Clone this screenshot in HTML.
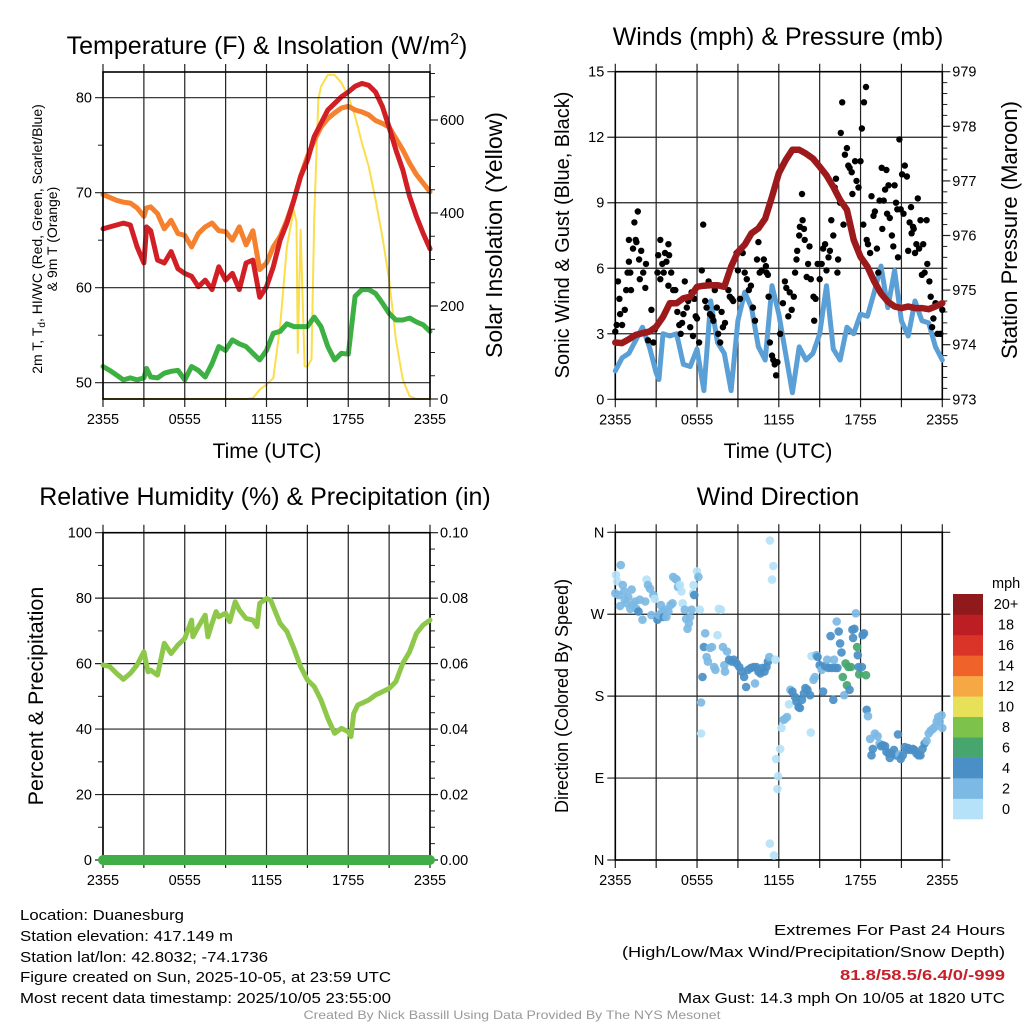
<!DOCTYPE html>
<html><head><meta charset="utf-8"><style>
html,body{margin:0;padding:0;background:#fff;}
svg{display:block;font-family:"Liberation Sans",Arial,sans-serif;}
</style></head><body>
<svg id="chart" width="1024" height="1024" viewBox="0 0 1024 1024" xmlns="http://www.w3.org/2000/svg">
<rect width="1024" height="1024" fill="#fff"/>
<text x="267" y="54" font-size="25" text-anchor="middle">Temperature (F) &amp; Insolation (W/m<tspan font-size="16" dy="-10">2</tspan><tspan dy="10">)</tspan></text>
<text x="778" y="45" font-size="25" text-anchor="middle">Winds (mph) &amp; Pressure (mb)</text>
<text x="265" y="505" font-size="25" text-anchor="middle">Relative Humidity (%) &amp; Precipitation (in)</text>
<text x="778" y="505" font-size="25" text-anchor="middle">Wind Direction</text>

<text transform="translate(42,239) rotate(-90)" font-size="14" text-anchor="middle">2m T, T<tspan font-size="10" dy="3">d</tspan><tspan dy="-3">, HI/WC (Red, Green, Scarlet/Blue)</tspan></text>
<text transform="translate(57,239) rotate(-90)" font-size="14" text-anchor="middle">&amp; 9m T (Orange)</text>
<text transform="translate(502,235) rotate(-90)" font-size="23" text-anchor="middle">Solar Insolation (Yellow)</text>
<text x="267" y="458" font-size="21" text-anchor="middle">Time (UTC)</text>
<text transform="translate(569,235) rotate(-90)" font-size="20" text-anchor="middle">Sonic Wind &amp; Gust (Blue, Black)</text>
<text transform="translate(1017,230) rotate(-90)" font-size="22" text-anchor="middle">Station Pressure (Maroon)</text>
<text x="778" y="458" font-size="21" text-anchor="middle">Time (UTC)</text>
<text transform="translate(43,696) rotate(-90)" font-size="21.5" text-anchor="middle">Percent &amp; Precipitation</text>
<text transform="translate(568,696) rotate(-90)" font-size="18" text-anchor="middle">Direction (Colored By Speed)</text>

<g font-size="14.5">
<text x="20" y="920" textLength="164" lengthAdjust="spacingAndGlyphs">Location: Duanesburg</text>
<text x="20" y="941" textLength="213" lengthAdjust="spacingAndGlyphs">Station elevation: 417.149 m</text>
<text x="20" y="962" textLength="248" lengthAdjust="spacingAndGlyphs">Station lat/lon: 42.8032; -74.1736</text>
<text x="20" y="982" textLength="371" lengthAdjust="spacingAndGlyphs">Figure created on Sun, 2025-10-05, at 23:59 UTC</text>
<text x="20" y="1003" textLength="371" lengthAdjust="spacingAndGlyphs">Most recent data timestamp: 2025/10/05 23:55:00</text>
</g>
<g font-size="14.5" text-anchor="end">
<text x="1005" y="935" textLength="231" lengthAdjust="spacingAndGlyphs">Extremes For Past 24 Hours</text>
<text x="1005" y="957" textLength="383" lengthAdjust="spacingAndGlyphs">(High/Low/Max Wind/Precipitation/Snow Depth)</text>
<text x="1005" y="980" fill="#c8202a" font-weight="bold" textLength="165" lengthAdjust="spacingAndGlyphs">81.8/58.5/6.4/0/-999</text>
<text x="1005" y="1003" textLength="327" lengthAdjust="spacingAndGlyphs">Max Gust: 14.3 mph On 10/05 at 1820 UTC</text>
</g>
<text x="512" y="1019" font-size="12" fill="#999" text-anchor="middle" textLength="417" lengthAdjust="spacingAndGlyphs">Created By Nick Bassill Using Data Provided By The NYS Mesonet</text>
</svg>
<script>
// ---------- data ----------
const timeTicks = ["2355","0555","1155","1755","2355"];
const tempHours = [0,0.5,1,1.5,2,2.5,3,3.2,3.5,4,4.5,5,5.5,6,6.5,7,7.5,8,8.5,9,9.5,10,10.5,11,11.5,12,12.5,13,13.5,14,14.5,15,15.5,16,16.5,17,17.5,18,18.5,19,19.5,20,20.5,21,21.5,22,22.5,23,23.5,24];
const tempRed = [66.2,66.4,66.6,66.8,66.6,64.3,62.6,66.4,66,62.9,62.6,63.8,62,61.5,61.2,60.1,60.8,59.8,62.2,60.8,61.5,59.8,62.6,62.9,59,60.1,62.2,65,66.8,69.2,71.7,73.4,75.9,77.3,78.7,79.4,80.1,80.6,81.2,81.5,81.3,80.6,79.1,76.9,74.5,72.4,69.6,67.5,65.7,64.1];
const temp9m = [69.8,69.5,69.2,69,68.9,68.4,67.5,68.4,68.5,67.8,66.2,67.1,65.7,65.5,64.3,65.7,66.4,66.8,66,65.9,65,66.4,64.5,66,61.9,62.6,64.3,65.4,67.1,69.2,71.7,73.8,75.5,76.9,77.8,78.4,78.9,79.1,78.7,78.5,78.2,77.6,77.3,76.9,75.7,74.5,73.1,71.9,71,70.1];
const dewpoint = [51.7,51.3,50.8,50.3,50.5,50.3,50.5,51.5,50.6,50.5,51,51.2,51.3,50.3,51.7,51.3,50.6,52,53.8,53.4,54.5,54.1,53.8,53.1,52.4,53.4,55.2,55.4,56.2,55.9,55.9,55.9,56.9,55.9,53.8,52.4,53.1,53,59.1,59.8,59.8,59.4,58.4,57.3,56.6,56.6,56.8,56.4,56.1,55.4];
const solarHours = [0,10.5,11,11.5,12,12.5,13,13.5,14,14.2,14.3,14.5,14.8,15,15.3,15.5,15.8,16,16.5,17,17.5,18,18.5,19,19.5,20,20.5,21,21.5,22,22.5,23,24];
const solar = [0,0,2,20,31,45,156,328,407,380,99,364,70,70,85,386,644,672,697,697,680,651,608,551,500,429,350,257,128,42,6,0,0];
const tempTicks = [50,60,70,80];
const solarTicks = [0,200,400,600];

const windHours = [0,0.5,1,1.5,2,2.5,3,3.2,3.5,4,4.5,5,5.5,6,6.5,7,7.5,8,8.5,9,9.5,10,10.5,11,11.5,12,12.5,13,13.5,14,14.5,15,15.5,16,16.5,17,17.5,18,18.5,19,19.5,20,20.5,21,21.5,22,22.5,23,23.5,24];
const windSpeed = [1.3,1.9,2.1,2.7,3.3,2.4,1.2,0.9,3.0,2.9,3.0,1.6,1.5,2.3,0.4,4.5,2.6,2.1,0.4,3.6,4.9,4.2,2.4,1.8,5.2,3.9,2.1,0.3,2.4,1.8,2.1,3.0,5.2,2.3,1.8,3.3,3.0,3.9,3.8,4.9,6.1,4.2,5.9,3.6,2.9,4.5,3.6,3.5,2.4,1.8];
const pressHours = [0,0.5,1,1.5,2,2.5,3,3.5,4,4.5,5,5.5,6,6.5,7,7.5,8,8.5,9,9.5,10,10.5,11,11.5,12,12.5,13,13.5,14,14.5,15,15.5,16,16.5,17,17.5,18,18.5,19,19.5,20,20.5,21,21.5,22,22.5,23,23.5,24];
const pressure = [974.04,974.03,974.1,974.18,974.21,974.24,974.33,974.51,974.76,974.76,974.85,974.88,975.06,975.08,975.09,975.09,975.06,975.43,975.7,975.83,976.04,976.13,976.31,976.71,977.14,977.38,977.57,977.57,977.5,977.41,977.26,977.1,976.89,976.65,976.47,975.92,975.61,975.43,975.16,974.94,974.79,974.7,974.67,974.7,974.67,974.67,974.65,974.7,974.76];
const gustHours = [0,0.1,0.2,0.3,0.35,0.5,0.7,0.8,0.9,1.0,1.1,1.15,1.0,1.3,1.4,1.5,1.55,1.65,1.75,1.8,1.9,2.05,2.2,2.25,2.4,2.65,2.8,2.9,3.1,3.15,3.3,3.3,3.45,3.55,3.65,3.75,3.9,3.95,4.1,3.9,4.25,4.4,4.55,4.7,4.8,4.9,5.0,5.1,5.25,5.35,5.5,5.6,5.7,5.8,5.9,6.0,6.15,6.35,6.45,6.6,6.7,6.85,6.95,7.1,7.2,7.3,7.45,7.55,7.7,7.8,7.9,8.05,8.3,8.4,8.55,8.65,8.9,9.0,9.15,9.35,9.5,9.65,9.8,9.95,10.1,10.25,10.4,10.5,10.6,10.75,10.9,11.05,11.1,11.2,11.25,11.35,11.5,11.6,11.7,11.8,11.9,12.1,12.3,12.45,12.55,12.7,12.8,12.95,13.1,13.2,13.3,13.35,13.5,13.55,13.7,13.75,13.85,13.9,14.05,14.15,14.25,14.35,14.55,14.6,14.7,14.85,15.0,15.15,15.25,15.4,15.5,15.65,15.75,15.85,16.0,16.1,16.2,16.3,16.35,16.5,16.55,16.65,16.75,16.85,17.0,17.1,17.2,17.35,17.4,17.6,17.7,17.85,18.0,18.1,18.25,18.4,18.2,18.45,18.55,18.7,18.8,18.95,19.05,19.2,19.3,19.4,19.55,19.6,19.7,19.8,19.9,19.95,20.05,20.15,20.3,20.4,20.5,20.6,20.7,20.75,20.85,20.95,21.05,21.15,21.25,21.4,21.5,21.6,21.7,21.75,21.85,21.9,22.0,22.1,22.2,22.3,22.4,22.5,22.6,22.7,22.85,22.9,23.05,23.15,23.25,23.35,23.5,23.65,23.85,24.0];
const gustSpeed = [3.1,3.4,5.4,4.6,3.9,3.4,4.1,5.0,5.8,6.3,5.8,5.0,7.3,6.9,8.1,7.3,7.2,8.6,6.4,5.5,6.8,5.8,5.1,6.2,2.7,4.1,2.6,3.2,5.8,6.6,7.3,5.5,6.2,5.8,6.7,6.3,7.1,6.6,5.8,5.2,5.0,5.0,4.0,3.4,3.0,3.5,3.9,5.4,4.2,4.5,3.3,4.9,2.9,4.6,3.8,3.7,2.6,5.9,8.0,4.5,4.2,5.4,3.9,3.8,3.6,5.0,4.2,3.0,2.6,4.0,3.3,3.5,5.0,4.7,4.6,4.5,6.7,5.9,4.6,6.7,5.8,5.5,5.0,5.2,4.2,3.6,6.4,7.2,5.8,5.9,6.4,6.1,5.8,5.7,4.7,2.6,2.0,1.8,1.6,1.1,1.7,3.0,4.4,5.4,5.1,3.8,4.9,4.1,4.7,5.8,6.4,6.8,7.5,7.9,9.4,8.2,7.8,7.3,5.6,6.2,7.0,5.5,4.7,3.6,4.6,6.2,5.5,6.2,6.9,7.1,5.9,6.5,6.8,8.2,7.5,9.7,10.1,5.8,6.4,9.0,12.2,13.6,8.0,11.2,11.5,10.7,10.6,10.4,9.4,10.9,10.0,9.7,10.9,12.4,13.6,14.3,8.0,7.3,7.1,6.7,9.3,8.4,8.6,6.9,5.8,9.1,10.6,7.8,9.1,9.6,10.5,8.5,9.8,8.3,7.5,7.0,9.8,9.0,8.7,6.5,11.9,8.7,10.3,8.5,10.7,10.2,6.8,8.1,8.8,7.6,7.9,7.8,6.7,7.1,9.2,6.9,8.2,5.7,7.1,5.8,8.2,6.2,5.4,4.7,3.3,3.7,4.4,3.0,3.0,4.1];
const windTicks = [0,3,6,9,12,15];
const pressTicks = [973,974,975,976,977,978,979];

const rhHours = [0,0.5,1,1.5,2,2.5,3,3.3,3.5,4,4.5,5,5.5,6,6.5,6.6,7,7.5,7.7,8,8.3,8.5,9,9.3,9.7,10,10.5,11,11.3,11.5,12,12.3,12.5,13,13.5,14,14.5,15,15.5,16,16.5,17,17.5,18,18.2,18.4,18.7,19,19.5,20,20.5,21,21.5,22,22.5,23,23.5,24];
const rh = [59.6,59.1,57,55.2,57,59.6,63.6,57.5,58,56.5,66.2,63.1,65.7,67.7,73.3,68.2,71.3,74.8,68.2,72.3,75.9,74.3,75.4,72.8,78.9,76.4,73.8,73.3,71.3,78.4,79.9,79.4,77.4,72.3,69.8,64.7,59.1,55,53,48.9,43.3,38.7,40.2,39.2,37.7,44.8,47.4,47.9,48.9,50.4,51.4,52.4,54.5,60.1,63.6,69.2,71.8,73.3];
const precip = [0,0];
const precipHours = [0,24];
const rhTicks = [0,20,40,60,80,100];
const precipTicks = ["0.00","0.02","0.04","0.06","0.08","0.10"];

const dirHours = [0,0.05,0.15,0.25,0.35,0.4,0.55,0.65,0.7,0.85,0.95,1.1,1.2,1.3,1.45,1.55,1.7,1.8,2.0,2.2,2.3,2.4,2.55,2.65,2.8,2.9,3.1,3.2,3.35,3.45,3.55,3.65,3.75,3.9,4.05,4.2,4.25,4.4,4.5,4.6,4.75,4.85,4.95,5.1,5.2,5.3,5.4,5.5,5.6,5.7,5.75,5.8,6.0,6.1,6.2,6.3,6.3,6.4,6.5,6.6,6.7,6.8,6.95,7.1,7.25,7.35,7.5,7.6,7.75,7.9,8.0,8.05,8.2,8.35,8.55,8.7,8.9,9.1,9.3,9.45,9.6,9.75,9.95,10.15,10.25,10.35,10.5,10.65,10.8,10.95,11.1,11.2,11.3,11.35,11.5,11.6,11.35,11.65,11.75,11.8,11.95,11.9,12.1,12.2,12.35,12.45,12.6,12.75,12.85,13.0,13.2,13.3,13.45,13.55,13.7,13.85,13.95,14.1,14.3,14.35,14.4,14.55,14.65,14.75,14.85,15.0,15.15,15.25,15.4,15.55,15.65,15.8,15.9,16.0,16.05,16.15,16.25,16.3,16.4,16.5,16.6,16.7,16.8,16.9,17.0,17.1,17.2,17.3,17.4,17.45,17.55,17.65,17.75,17.8,17.85,17.9,18.1,18.15,18.25,18.4,18.45,18.55,18.7,18.8,18.9,19.05,19.25,19.4,19.5,19.65,19.8,19.9,20.05,20.15,20.3,20.45,20.6,20.75,20.85,20.95,21.1,21.25,21.4,21.5,21.7,21.85,21.95,22.1,22.25,22.4,22.55,22.7,22.85,23.0,23.15,23.3,23.45,23.6,23.7,23.8,23.95,24.0];
const dirDeg = [293,313,306,291,279,324,302,295,286,282,289,276,297,280,284,276,273,286,264,284,308,302,298,269,291,287,264,269,280,273,267,275,267,273,280,282,311,309,308,300,302,295,282,275,265,254,260,267,275,293,302,291,317,311,275,173,139,201,234,249,223,218,233,234,212,209,247,276,275,234,214,207,229,220,218,220,216,212,207,201,190,209,211,212,194,212,207,205,211,207,212,218,223,351,308,323,18,5,220,111,92,78,122,145,154,155,157,171,187,185,179,174,168,167,176,183,189,187,181,140,224,198,201,225,223,214,209,185,213,220,211,246,211,176,220,211,262,211,251,238,228,201,181,216,192,212,187,212,253,244,254,271,234,225,212,204,212,247,249,203,165,158,133,115,122,139,136,128,125,126,125,119,117,112,117,121,115,138,116,111,115,124,121,123,121,122,121,117,115,115,122,128,131,139,142,144,146,152,157,152,159,145];
const dirSpeed = [3,1,1,3,3,3,3,3,3,3,3,3,3,3,3,3,5,3,3,3,1,3,3,3,3,1,5,3,3,3,5,3,3,3,3,3,3,3,3,3,1,1,1,3,3,3,3,3,3,1,1,5,1,3,1,3,1,5,5,3,3,3,3,3,3,3,1,1,1,3,3,3,3,5,5,5,5,5,5,5,5,5,5,5,3,5,5,5,5,5,5,5,3,1,1,1,1,1,1,1,1,1,1,1,3,3,3,1,3,5,5,5,5,5,5,5,5,5,5,1,1,3,3,3,5,5,3,5,5,3,5,5,5,5,3,5,3,5,5,5,5,7,3,7,7,7,5,7,5,5,5,3,7,5,5,7,5,5,5,7,5,3,3,5,5,3,3,3,5,5,5,5,5,5,5,5,5,5,3,5,5,5,5,5,5,5,5,5,5,5,5,5,3,3,3,3,3,3,3,3,3,3,3,3,3];
const dirTicks = ["N","E","S","W","N"];
const speedLabels = ["0","2","4","6","8","10","12","14","16","18","20+"];
const speedColors = ["#b5e2f8","#7cb9e4","#4a8fc6","#47a66e","#7cc24b","#e7e15a","#f6a845","#ef632b","#da3429","#bc1e24","#901a1b"];

// ---------- helpers ----------
const NS = "http://www.w3.org/2000/svg";
const svg = document.getElementById("chart");
function mk(tag, attrs, parent) {
  const e = document.createElementNS(NS, tag);
  for (const k in attrs) e.setAttribute(k, attrs[k]);
  (parent || svg).appendChild(e);
  return e;
}
function lin(d0, d1, r0, r1) { return v => r0 + (v - d0) * (r1 - r0) / (d1 - d0); }
function path(xs, ys, fx, fy) { return xs.map((h, i) => (i ? "L" : "M") + fx(h).toFixed(1) + "," + fy(ys[i]).toFixed(1)).join(""); }

function frame(p, name, minorLeft, minorRight, rightTickVals, rightFy, rightLabels, leftTickVals, leftFy, leftLabels, drawRight) {
  const g = mk("g", {});
  
  
  for (let h = 0; h <= 24; h += 3) {
    const x = p.fx(h);
    const l = mk("line", { x1: x, x2: x, y1: p.top - 8, y2: p.bot + 8, stroke: "#222", "stroke-width": 1.2 }, g);
    
    
  }
  timeTicks.forEach((t, i) => {
    const tx = mk("text", { x: p.fx(i * 6), y: p.bot + 25, "font-size": 14.5, "text-anchor": "middle" }, g);
    
    
    tx.textContent = t;
  });
  leftTickVals.forEach((v, i) => {
    const y = leftFy(v);
    const l = mk("line", { x1: p.left - 8, x2: p.right + (drawRight ? 0 : 8), y1: y, y2: y, stroke: "#222", "stroke-width": 1.2 }, g);
    
    
    const tx = mk("text", { x: p.left - 11, y: y + 5, "font-size": 14.5, "text-anchor": "end" }, g);
    
    
    tx.textContent = leftLabels[i];
  });
  minorLeft.forEach(v => {
    const y = leftFy(v);
    const l = mk("line", { x1: p.left - 5, x2: p.left, y1: y, y2: y, stroke: "#222", "stroke-width": 1 }, g);
    
    
  });
  if (drawRight) {
    rightTickVals.forEach((v, i) => {
      const y = rightFy(v);
      const l = mk("line", { x1: p.right, x2: p.right + 8, y1: y, y2: y, stroke: "#222", "stroke-width": 1.2 }, g);
      
      
      const tx = mk("text", { x: p.right + 10, y: y + 5, "font-size": 14.5 }, g);
      
      
      tx.textContent = rightLabels[i];
    });
    minorRight.forEach(v => {
      const y = rightFy(v);
      const l = mk("line", { x1: p.right, x2: p.right + 5, y1: y, y2: y, stroke: "#222", "stroke-width": 1 }, g);
      
      
    });
  }
  const b = mk("rect", { x: p.left, y: p.top, width: p.right - p.left, height: p.bot - p.top, fill: "none", stroke: "#000", "stroke-width": 1.6 }, g);
  
  
}
function line(d, color, w, name) {
  const e = mk("path", { d: d, fill: "none", stroke: color, "stroke-width": w, "stroke-linejoin": "round", "stroke-linecap": "round" });
  
  
  return e;
}

// ---------- panel 1: temperature ----------
const p1 = { left: 103, right: 430, top: 72, bot: 399 };
p1.fx = lin(0, 24, p1.left, p1.right);
const fyT = lin(50, 80, 382.7, 97.7);
const fyS = lin(0, 600, 399, 120);
line(path(solarHours, solar, p1.fx, fyS), "#fbde4c", 2, "solar-insolation-line");
line(path(tempHours, temp9m, p1.fx, fyT), "#f5812e", 5, "temp-9m-line");
line(path(tempHours, tempRed, p1.fx, fyT), "#d21f26", 5, "temp-2m-line");
line(path(tempHours, dewpoint, p1.fx, fyT), "#3db043", 5, "dewpoint-line");
frame(p1, "temperature", [55, 65, 75], [50, 100, 150, 250, 300, 350, 450, 500, 550, 650, 700], solarTicks, fyS, solarTicks.map(String), tempTicks, fyT, tempTicks.map(String), true);

// ---------- panel 2: winds ----------
const p2 = { left: 615.3, right: 942.3, top: 71.7, bot: 399.3 };
p2.fx = lin(0, 24, p2.left, p2.right);
const fyW = lin(0, 15, 399.3, 71.7);
const fyP = lin(973, 979, 399.3, 71.7);
const pminor = [];
for (let v = 973; v < 979; v += 0.2) { if (Math.abs(v - Math.round(v)) > 0.05) pminor.push(v); }
frame(p2, "wind", [], pminor, pressTicks, fyP, pressTicks.map(String), windTicks, fyW, windTicks.map(String), true);
line(path(windHours, windSpeed, p2.fx, fyW), "#5a9fd5", 5, "sonic-wind-line");
gustHours.forEach((h, i) => {
  const c = mk("circle", { cx: p2.fx(h).toFixed(1), cy: fyW(gustSpeed[i]).toFixed(1), r: 3.2, fill: "#000" });
  
  
});
line(path(pressHours, pressure, p2.fx, fyP), "#9c1a1c", 6.5, "pressure-line");

// ---------- panel 3: humidity ----------
const p3 = { left: 103, right: 430, top: 532.7, bot: 860 };
p3.fx = lin(0, 24, p3.left, p3.right);
const fyR = lin(0, 100, 860, 532.7);
const fyPr = lin(0, 0.1, 860, 532.7);
const precipNum = precipTicks.map(Number);
const prMinor = [0.005,0.01,0.015,0.025,0.03,0.035,0.045,0.05,0.055,0.065,0.07,0.075,0.085,0.09,0.095];
const rMinor = [10, 30, 50, 70, 90];
frame(p3, "humidity", rMinor, prMinor, precipNum, fyPr, precipTicks, rhTicks, fyR, rhTicks.map(String), true);
line(path(rhHours, rh, p3.fx, fyR), "#8dc84b", 5, "relative-humidity-line");
line(path(precipHours, precip, p3.fx, fyPr), "#3fae46", 10, "precipitation-line");

// ---------- panel 4: direction ----------
const p4 = { left: 615.3, right: 942.3, top: 532.3, bot: 860 };
p4.fx = lin(0, 24, p4.left, p4.right);
const fyD = lin(0, 360, 860, 532.3);
frame(p4, "direction", [], [], [], fyD, [], [0, 90, 180, 270, 360], fyD, dirTicks, false);
dirHours.forEach((h, i) => {
  const ci = Math.min(10, Math.floor(dirSpeed[i] / 2));
  const c = mk("circle", { cx: p4.fx(h).toFixed(1), cy: fyD(dirDeg[i]).toFixed(1), r: 4.3, fill: speedColors[ci], "fill-opacity": 0.92 });
  
  
});
const cb = mk("g", {});


const cbTop = 594, cbBot = 819, binH = (cbBot - cbTop) / speedLabels.length;
speedLabels.forEach((lab, i) => {
  const y = cbBot - (i + 1) * binH;
  const r = mk("rect", { x: 953, y: y.toFixed(2), width: 30, height: (binH + 0.3).toFixed(2), fill: speedColors[i] }, cb);
  
  
  const t = mk("text", { x: 1006, y: (y + binH / 2 + 5).toFixed(1), "font-size": 14.5, "text-anchor": "middle" }, cb);
  
  
  t.textContent = lab;
});
const mph = mk("text", { x: 992, y: 588, "font-size": 14.5 }, cb);


mph.textContent = "mph";
</script>
</body></html>
